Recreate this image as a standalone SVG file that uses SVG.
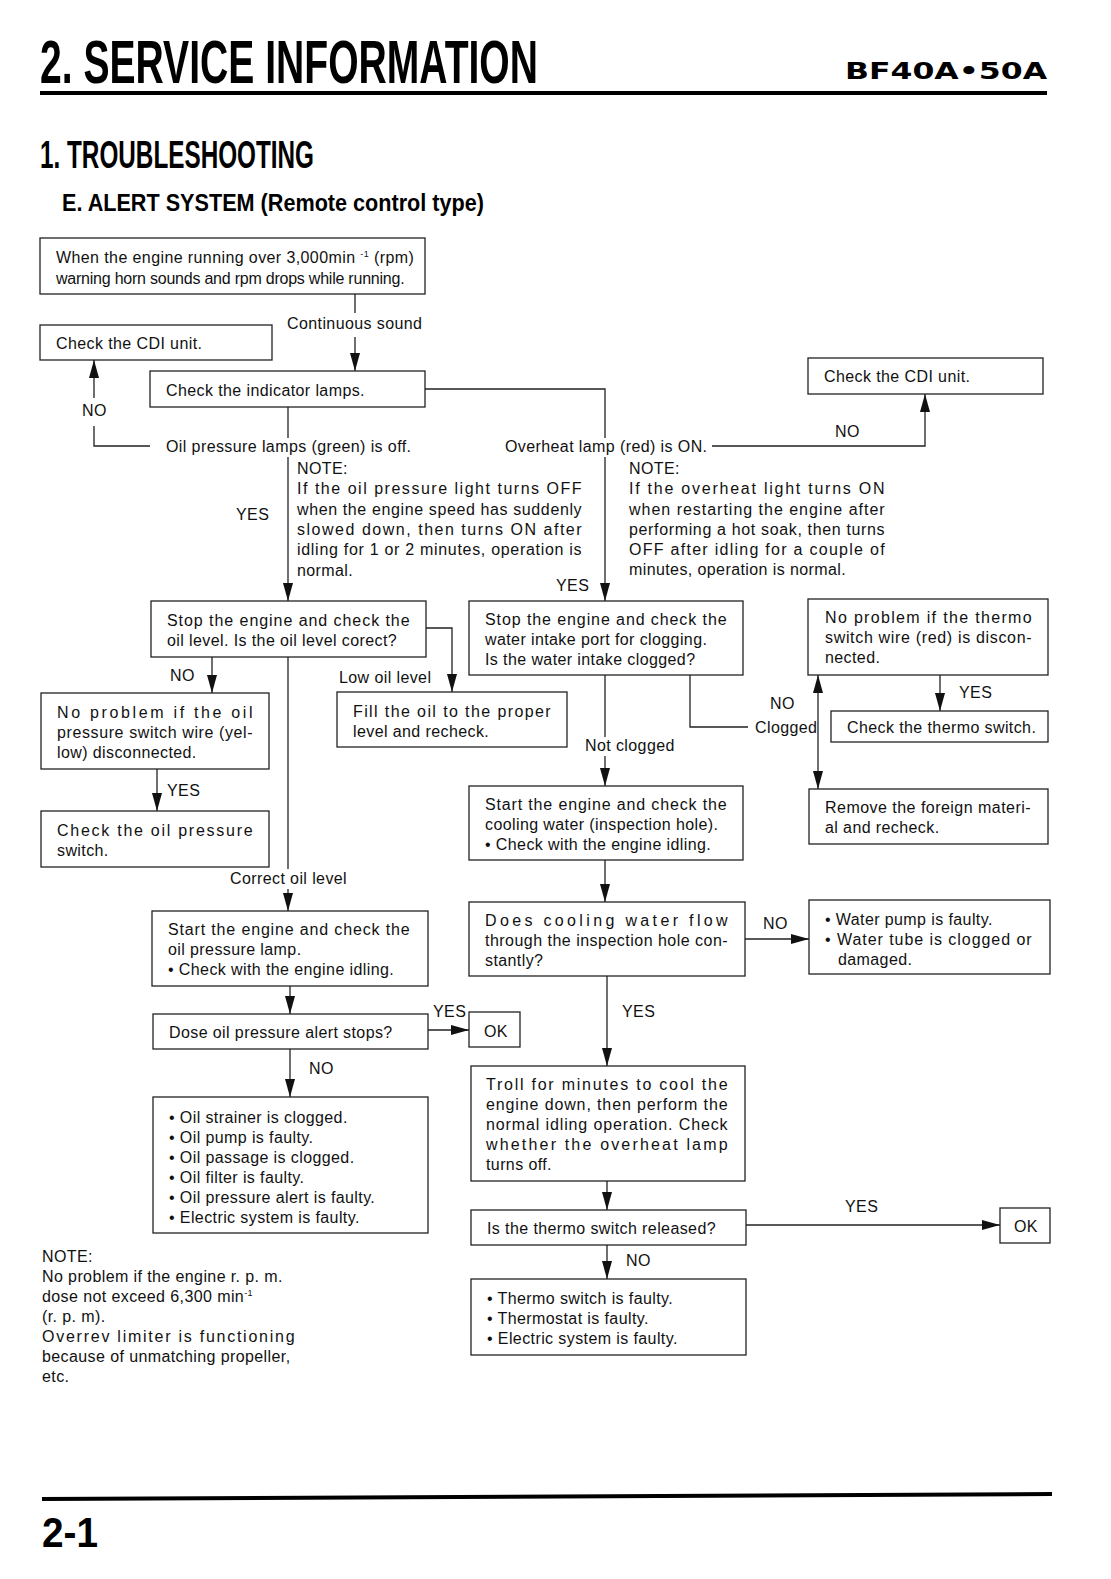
<svg xmlns="http://www.w3.org/2000/svg" width="1111" height="1579" viewBox="0 0 1111 1579">
<style>
.box{fill:#fff;stroke:#222;stroke-width:1.3}
.c{fill:none;stroke:#222;stroke-width:1.3}
.a{marker-end:url(#ah)}
.t{font-family:"Liberation Sans",Arial,sans-serif;font-size:16px;letter-spacing:0.4px;fill:#111}
.h{font-family:"Liberation Sans Narrow","Liberation Sans",Arial,sans-serif;font-weight:bold;fill:#000}
</style>
<defs>
<marker id="ah" markerUnits="userSpaceOnUse" markerWidth="18" markerHeight="10" refX="18" refY="5" orient="auto"><path d="M0,0 L18,5 L0,10 z" fill="#111"/></marker>
</defs>
<rect width="1111" height="1579" fill="#fff"/>

<g id="header">
<text class="h" x="40" y="83" font-size="61" textLength="498" lengthAdjust="spacingAndGlyphs">2. SERVICE INFORMATION</text>
<text class="h" x="845" y="79" font-size="23" textLength="202" lengthAdjust="spacingAndGlyphs" style="font-family:'DejaVu Sans','Liberation Sans',sans-serif">BF40A•50A</text>
<rect x="40" y="91" width="1007" height="4" fill="#000"/>
<text class="h" x="40" y="168" font-size="39" textLength="274" lengthAdjust="spacingAndGlyphs">1. TROUBLESHOOTING</text>
<text class="h" x="62" y="211" font-size="23" textLength="422" lengthAdjust="spacingAndGlyphs">E. ALERT SYSTEM (Remote control type)</text>
</g>

<g id="footer">
<polygon points="42,1497 1052,1492 1052,1496 42,1501" fill="#000"/>
<text class="h" x="42" y="1547" font-size="42" textLength="56" lengthAdjust="spacingAndGlyphs">2-1</text>
</g>

<g id="connectors">
<line class="c" x1="355" y1="294" x2="355" y2="313"/>
<line class="c a" x1="355" y1="337" x2="355" y2="371"/>
<polyline class="c" points="150,446 94,446 94,426"/>
<line class="c a" x1="94" y1="398" x2="94" y2="360"/>
<line class="c" x1="288" y1="407" x2="288" y2="438"/>
<line class="c a" x1="288" y1="457" x2="288" y2="601"/>
<polyline class="c" points="425,389 605,389 605,438"/>
<line class="c a" x1="605" y1="457" x2="605" y2="601"/>
<polyline class="c a" points="712,446 925,446 925,394"/>
<polyline class="c a" points="426,628 452,628 452,692"/>
<line class="c a" x1="212" y1="657" x2="212" y2="693"/>
<line class="c" x1="288" y1="657" x2="288" y2="869"/>
<line class="c a" x1="288" y1="889" x2="288" y2="911"/>
<line class="c a" x1="157" y1="769" x2="157" y2="811"/>
<line class="c" x1="605" y1="675" x2="605" y2="737"/>
<line class="c a" x1="605" y1="756" x2="605" y2="786"/>
<polyline class="c" points="690,675 690,727 748,727"/>
<line class="c a" x1="818" y1="733" x2="818" y2="675"/>
<line class="c a" x1="818" y1="733" x2="818" y2="789"/>
<line class="c a" x1="940" y1="675" x2="940" y2="711"/>
<line class="c a" x1="605" y1="860" x2="605" y2="902"/>
<line class="c a" x1="745" y1="939" x2="809" y2="939"/>
<line class="c a" x1="607" y1="976" x2="607" y2="1066"/>
<line class="c a" x1="290" y1="986" x2="290" y2="1014"/>
<line class="c a" x1="428" y1="1030" x2="469" y2="1030"/>
<line class="c a" x1="290" y1="1049" x2="290" y2="1097"/>
<line class="c a" x1="607" y1="1181" x2="607" y2="1210"/>
<line class="c a" x1="746" y1="1225" x2="1000" y2="1225"/>
<line class="c a" x1="607" y1="1245" x2="607" y2="1279"/>
</g>

<g id="labels">
<text class="t" x="287" y="329">Continuous sound</text>
<text class="t" x="82" y="416">NO</text>
<text class="t" x="166" y="452">Oil pressure lamps (green) is off.</text>
<text class="t" x="505" y="452">Overheat lamp (red) is ON.</text>
<text class="t" x="835" y="437">NO</text>
<text class="t" x="236" y="520">YES</text>
<text class="t" x="556" y="591">YES</text>
<text class="t" x="170" y="681">NO</text>
<text class="t" x="339" y="683">Low oil level</text>
<text class="t" x="167" y="796">YES</text>
<text class="t" x="230" y="884">Correct oil level</text>
<text class="t" x="585" y="751">Not clogged</text>
<text class="t" x="770" y="709">NO</text>
<text class="t" x="755" y="733">Clogged</text>
<text class="t" x="959" y="698">YES</text>
<text class="t" x="763" y="929">NO</text>
<text class="t" x="622" y="1017">YES</text>
<text class="t" x="433" y="1017">YES</text>
<text class="t" x="309" y="1074">NO</text>
<text class="t" x="845" y="1212">YES</text>
<text class="t" x="626" y="1266">NO</text>
</g>

<g id="note-oil">
<text class="t" x="297" y="474">NOTE:</text>
<text class="t" x="297" y="494" textLength="285">If the oil pressure light turns OFF</text>
<text class="t" x="297" y="515" textLength="285">when the engine speed has suddenly</text>
<text class="t" x="297" y="535" textLength="285">slowed down, then turns ON after</text>
<text class="t" x="297" y="555" textLength="285">idling for 1 or 2 minutes, operation is</text>
<text class="t" x="297" y="576">normal.</text>
</g>

<g id="note-overheat">
<text class="t" x="629" y="474">NOTE:</text>
<text class="t" x="629" y="494" textLength="256">If the overheat light turns ON</text>
<text class="t" x="629" y="515" textLength="256">when restarting the engine after</text>
<text class="t" x="629" y="535" textLength="256">performing a hot soak, then turns</text>
<text class="t" x="629" y="555" textLength="256">OFF after idling for a couple of</text>
<text class="t" x="629" y="575">minutes, operation is normal.</text>
</g>

<g id="note-bottom">
<text class="t" x="42" y="1262">NOTE:</text>
<text class="t" x="42" y="1282">No problem if the engine r. p. m.</text>
<text class="t" x="42" y="1302">dose not exceed 6,300 min<tspan dy="-6" font-size="9">-1</tspan></text>
<text class="t" x="42" y="1322">(r. p. m).</text>
<text class="t" x="42" y="1342" textLength="253">Overrev limiter is functioning</text>
<text class="t" x="42" y="1362">because of unmatching propeller,</text>
<text class="t" x="42" y="1382">etc.</text>
</g>

<g id="nodeA">
<rect class="box" x="40" y="238" width="385" height="56"/>
<text class="t" x="56" y="263">When the engine running over 3,000min <tspan dy="-6" font-size="9">-1</tspan><tspan dy="6"> (rpm)</tspan></text>
<text class="t" x="56" y="284" textLength="349">warning horn sounds and rpm drops while running.</text>
</g>
<g id="nodeB">
<rect class="box" x="40" y="325" width="232" height="35"/>
<text class="t" x="56" y="349">Check the CDI unit.</text>
</g>
<g id="nodeC">
<rect class="box" x="150" y="371" width="275" height="36"/>
<text class="t" x="166" y="396">Check the indicator lamps.</text>
</g>
<g id="nodeE">
<rect class="box" x="808" y="358" width="235" height="36"/>
<text class="t" x="824" y="382">Check the CDI unit.</text>
</g>
<g id="nodeF">
<rect class="box" x="151" y="601" width="275" height="56"/>
<text class="t" x="167" y="626" textLength="243">Stop the engine and check the</text>
<text class="t" x="167" y="646">oil level. Is the oil level corect?</text>
</g>
<g id="nodeD">
<rect class="box" x="469" y="601" width="274" height="74"/>
<text class="t" x="485" y="625" textLength="242">Stop the engine and check the</text>
<text class="t" x="485" y="645">water intake port for clogging.</text>
<text class="t" x="485" y="665">Is the water intake clogged?</text>
</g>
<g id="nodeK">
<rect class="box" x="808" y="599" width="240" height="76"/>
<text class="t" x="825" y="623" textLength="207">No problem if the thermo</text>
<text class="t" x="825" y="643" textLength="207">switch wire (red) is discon-</text>
<text class="t" x="825" y="663">nected.</text>
</g>
<g id="nodeG">
<rect class="box" x="41" y="693" width="228" height="76"/>
<text class="t" x="57" y="718" textLength="196">No problem if the oil</text>
<text class="t" x="57" y="738" textLength="196">pressure switch wire (yel-</text>
<text class="t" x="57" y="758">low) disconnected.</text>
</g>
<g id="nodeFill">
<rect class="box" x="337" y="692" width="230" height="55"/>
<text class="t" x="353" y="717" textLength="198">Fill the oil to the proper</text>
<text class="t" x="353" y="737">level and recheck.</text>
</g>
<g id="nodeM">
<rect class="box" x="831" y="711" width="217" height="31"/>
<text class="t" x="847" y="733">Check the thermo switch.</text>
</g>
<g id="nodeJ">
<rect class="box" x="469" y="786" width="274" height="74"/>
<text class="t" x="485" y="810" textLength="242">Start the engine and check the</text>
<text class="t" x="485" y="830">cooling water (inspection hole).</text>
<text class="t" x="485" y="850">• Check with the engine idling.</text>
</g>
<g id="nodeL">
<rect class="box" x="809" y="789" width="239" height="55"/>
<text class="t" x="825" y="813" textLength="206">Remove the foreign materi-</text>
<text class="t" x="825" y="833">al and recheck.</text>
</g>
<g id="nodeI">
<rect class="box" x="41" y="811" width="228" height="56"/>
<text class="t" x="57" y="836" textLength="196">Check the oil pressure</text>
<text class="t" x="57" y="856">switch.</text>
</g>
<g id="nodeN">
<rect class="box" x="469" y="902" width="276" height="74"/>
<text class="t" x="485" y="926" textLength="243">Does cooling water flow</text>
<text class="t" x="485" y="946" textLength="243">through the inspection hole con-</text>
<text class="t" x="485" y="966">stantly?</text>
</g>
<g id="nodeO">
<rect class="box" x="809" y="900" width="241" height="74"/>
<text class="t" x="825" y="925">• Water pump is faulty.</text>
<text class="t" x="825" y="945" textLength="207">• Water tube is clogged or</text>
<text class="t" x="838" y="965">damaged.</text>
</g>
<g id="nodeH">
<rect class="box" x="152" y="911" width="276" height="75"/>
<text class="t" x="168" y="935" textLength="242">Start the engine and check the</text>
<text class="t" x="168" y="955">oil pressure lamp.</text>
<text class="t" x="168" y="975">• Check with the engine idling.</text>
</g>
<g id="nodeQ">
<rect class="box" x="153" y="1014" width="275" height="35"/>
<text class="t" x="169" y="1038">Dose oil pressure alert stops?</text>
</g>
<g id="nodeOK1">
<rect class="box" x="469" y="1012" width="51" height="35"/>
<text class="t" x="484" y="1037">OK</text>
</g>
<g id="nodeR">
<rect class="box" x="153" y="1097" width="275" height="136"/>
<text class="t" x="169" y="1123">• Oil strainer is clogged.</text>
<text class="t" x="169" y="1143">• Oil pump is faulty.</text>
<text class="t" x="169" y="1163">• Oil passage is clogged.</text>
<text class="t" x="169" y="1183">• Oil filter is faulty.</text>
<text class="t" x="169" y="1203">• Oil pressure alert is faulty.</text>
<text class="t" x="169" y="1223">• Electric system is faulty.</text>
</g>
<g id="nodeP">
<rect class="box" x="471" y="1066" width="274" height="115"/>
<text class="t" x="486" y="1090" textLength="242">Troll for minutes to cool the</text>
<text class="t" x="486" y="1110" textLength="242">engine down, then perform the</text>
<text class="t" x="486" y="1130" textLength="242">normal idling operation. Check</text>
<text class="t" x="486" y="1150" textLength="242">whether the overheat lamp</text>
<text class="t" x="486" y="1170">turns off.</text>
</g>
<g id="nodeS">
<rect class="box" x="471" y="1210" width="275" height="35"/>
<text class="t" x="487" y="1234">Is the thermo switch released?</text>
</g>
<g id="nodeOK2">
<rect class="box" x="1000" y="1208" width="50" height="35"/>
<text class="t" x="1014" y="1232">OK</text>
</g>
<g id="nodeT">
<rect class="box" x="471" y="1279" width="275" height="76"/>
<text class="t" x="487" y="1304">• Thermo switch is faulty.</text>
<text class="t" x="487" y="1324">• Thermostat is faulty.</text>
<text class="t" x="487" y="1344">• Electric system is faulty.</text>
</g>
</svg>
